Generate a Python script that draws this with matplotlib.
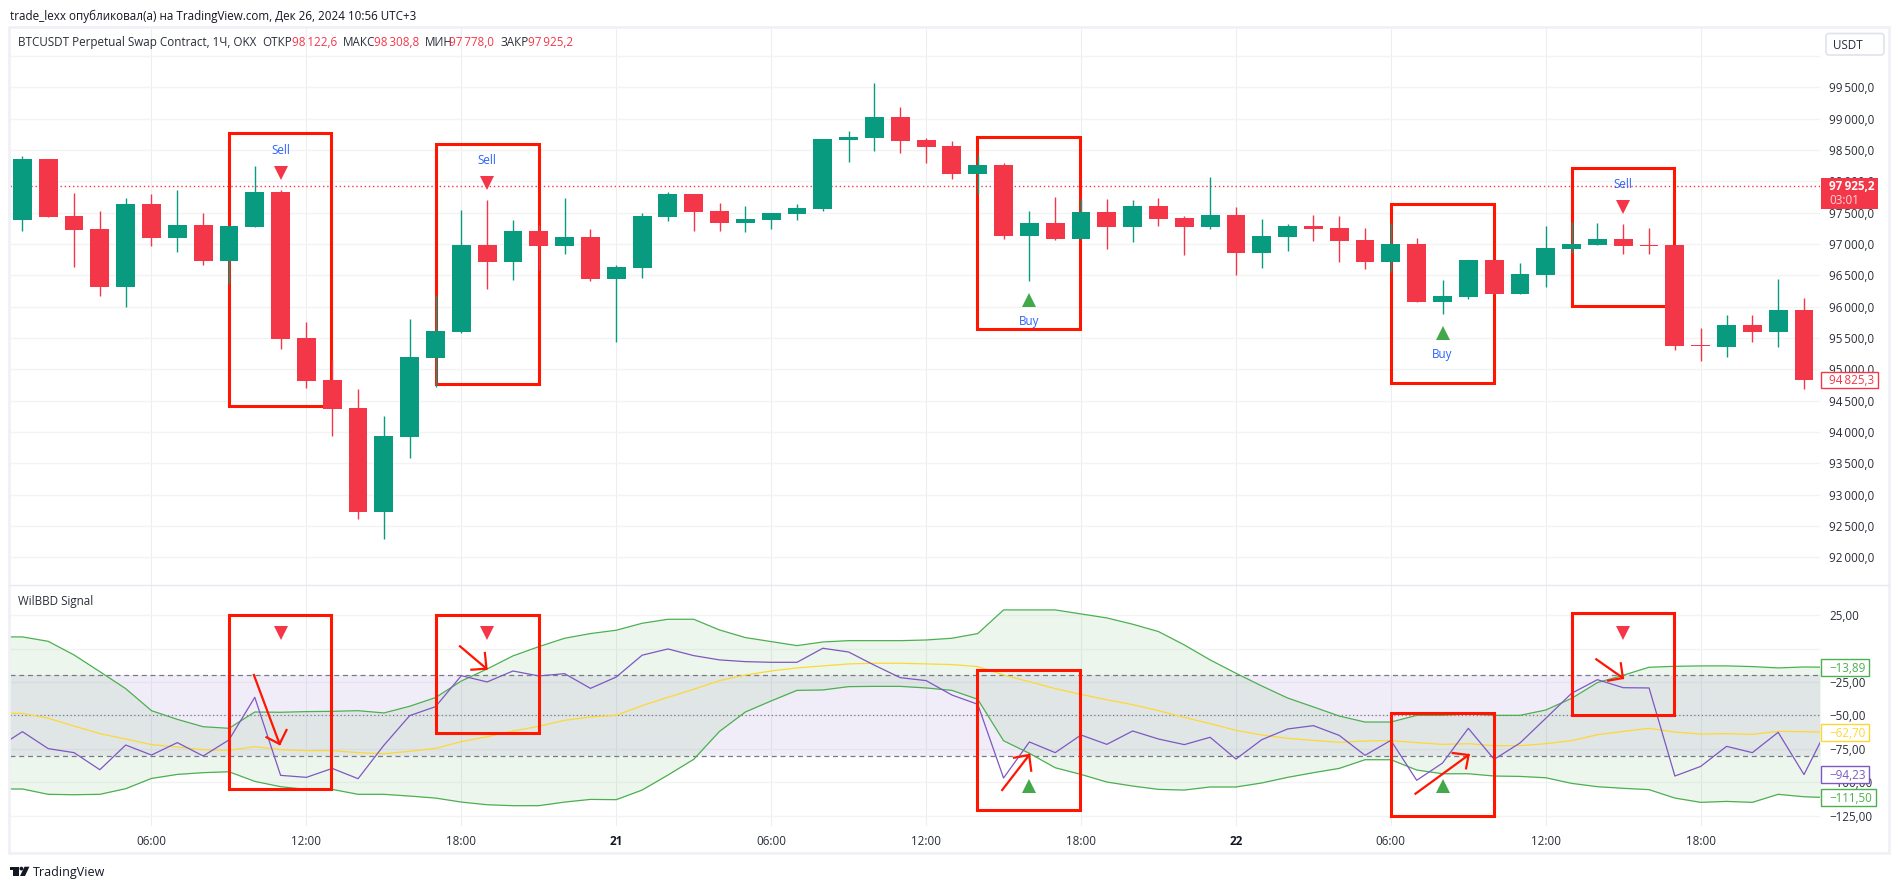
#!/usr/bin/env python
"""BTCUSDT 1h candles with the WilBBD Signal pane, TradingView look."""
import matplotlib
matplotlib.use("Agg")
import matplotlib.pyplot as plt
from matplotlib.patches import Rectangle, FancyBboxPatch, Circle, Polygon
from matplotlib.transforms import Affine2D

# ---- data ----
HOURS = list(range(1, 71))  # hours since the 20th, 00:00
OPENS = [97383, 98356, 97447, 97239, 96319, 97638, 97096, 97303, 96729, 97271,
         97830, 95500, 94830, 94383, 92724, 93920, 95181, 95596, 96984, 96713,
         97207, 96968, 97112, 96441, 96617, 97431, 97798, 97527, 97335, 97383,
         97479, 97559, 98660, 98691, 99027, 98660, 98564, 98117, 98261, 97128,
         97335, 97080, 97511, 97271, 97606, 97415, 97271, 97463, 96856, 97112,
         97287, 97255, 97064, 96713, 97000, 96074, 96154, 96745, 96202, 96505,
         96920, 96984, 97080, 96984, 96984, 95388, 95356, 95707, 95596, 95947]
HIGHS = [98404, 98356, 97814, 97527, 97734, 97798, 97862, 97495, 97287, 98245,
         97862, 95755, 95149, 94686, 94255, 95803, 96186, 97543, 97702, 97383,
         97303, 97734, 97239, 96665, 97495, 97830, 97798, 97654, 97606, 97495,
         97638, 98675, 98803, 99569, 99186, 98691, 98644, 98420, 98293, 97527,
         97750, 97718, 97718, 97702, 97734, 97447, 98069, 97590, 97399, 97319,
         97463, 97447, 97255, 97335, 97096, 96426, 96745, 96745, 96697, 97287,
         97351, 97335, 97319, 97255, 96984, 95660, 95867, 95867, 96441, 96138]
LOWS = [97213, 97431, 96633, 96170, 95995, 96968, 96872, 96665, 96362, 97271,
        95325, 94702, 93936, 92612, 92293, 93585, 94718, 95580, 96282, 96426,
        96585, 96840, 96410, 95436, 96457, 97367, 97207, 97207, 97191, 97239,
        97383, 97527, 98308, 98484, 98452, 98293, 98037, 97798, 97080, 96410,
        97064, 97080, 96920, 97032, 97287, 96824, 97239, 96505, 96617, 96888,
        97048, 96713, 96601, 96553, 96074, 95883, 96122, 96202, 96202, 96314,
        96856, 96984, 96840, 96840, 95309, 95133, 95197, 95436, 95356, 94686]
CLOSES = [98356, 97431, 97223, 96319, 97638, 97096, 97303, 96729, 97287, 97830,
          95484, 94814, 94367, 92724, 93936, 95197, 95612, 96984, 96713, 97207,
          96968, 97112, 96441, 96633, 97447, 97798, 97511, 97335, 97399, 97495,
          97574, 98675, 98707, 99027, 98644, 98548, 98117, 98261, 97128, 97335,
          97080, 97511, 97271, 97606, 97399, 97271, 97463, 96856, 97128, 97287,
          97239, 97048, 96713, 97000, 96074, 96170, 96745, 96202, 96521, 96936,
          97000, 97080, 96968, 96968, 95372, 95372, 95707, 95596, 95947, 94825.3]
LAST_PRICE = 97925.2

SELL_HOURS = [11, 19, 63]
SELL_PRICES = [98141, 97978, 97595]
BUY_HOURS = [40, 56]
BUY_PRICES = [96111, 95588]
SELL_OSC = [12, 12, 12]
BUY_OSC = [-102.4, -102.4]

OSC_HOURS = list(range(0, 72))
UPPER = [8.8, 8.8, 5.5, -4.7, -17.2, -29.9, -46.4, -52.9, -58.4, -59.6, -47.4, -47.6,
         -47.1, -46.9, -46.4, -48.1, -43.1, -36.6, -24.2, -15.2, -5.4, 1.5, 7.8, 11.3,
         13.8, 19.0, 22.0, 22.0, 14.0, 8.3, 5.3, 2.3, 5.0, 6.0, 6.0, 6.0,
         6.5, 7.8, 11.3, 29.0, 29.0, 29.0, 26.0, 23.0, 18.3, 12.8, 2.8, -8.4,
         -18.4, -27.9, -36.9, -43.6, -50.4, -54.9, -54.9, -49.9, -49.9, -48.9, -49.9, -49.9,
         -45.9, -37.2, -25.4, -19.9, -13.9, -13.2, -12.9, -12.9, -13.4, -14.4, -13.7, -13.9]
LOWER = [-105.0, -105.0, -109.0, -109.3, -109.0, -104.8, -97.1, -94.1, -92.8, -92.1, -99.3, -103.3,
         -105.3, -105.3, -109.0, -109.0, -110.3, -111.8, -114.8, -116.8, -117.5, -117.5, -114.8, -112.8,
         -113.0, -105.8, -94.6, -82.8, -61.9, -47.4, -39.1, -31.2, -30.9, -28.4, -28.2, -28.2,
         -29.4, -31.2, -37.9, -68.9, -78.3, -89.1, -94.1, -99.8, -102.8, -105.3, -105.8, -103.5,
         -103.5, -100.5, -96.3, -92.8, -89.6, -83.1, -83.1, -90.8, -93.6, -93.6, -95.3, -95.6,
         -96.6, -100.8, -103.3, -104.5, -105.5, -111.8, -115.0, -114.3, -115.0, -109.0, -110.8, -111.5]
SIGNAL = [-74.6, -62.1, -74.8, -77.8, -90.6, -72.1, -79.6, -70.3, -80.3, -68.3, -36.4, -94.8,
          -96.3, -89.6, -97.3, -72.3, -50.1, -43.4, -20.2, -24.9, -16.7, -20.4, -18.7, -29.7,
          -21.2, -4.9, -0.2, -5.2, -8.4, -9.7, -10.2, -10.2, 0.3, -2.5, -12.4, -21.7,
          -23.9, -34.7, -41.6, -96.8, -69.8, -77.8, -64.6, -71.6, -61.6, -67.6, -71.8, -66.3,
          -82.6, -68.1, -60.1, -57.6, -64.9, -79.8, -68.6, -98.5, -85.6, -59.6, -82.8, -70.6,
          -52.1, -33.4, -23.2, -29.2, -29.4, -95.3, -88.1, -73.1, -77.8, -62.6, -94.2, -55.9]
BASIS = [-48.4, -48.4, -52.1, -57.9, -63.6, -67.6, -71.8, -73.6, -75.6, -76.1, -73.3, -75.6,
         -76.3, -76.3, -77.8, -78.6, -76.8, -74.6, -69.6, -65.9, -61.6, -58.1, -53.6, -51.1,
         -49.9, -42.6, -36.4, -30.4, -23.9, -19.7, -16.7, -14.4, -12.9, -11.4, -10.9, -10.9,
         -11.4, -11.9, -13.4, -19.7, -24.7, -29.9, -34.2, -38.2, -41.9, -46.4, -51.4, -56.1,
         -61.1, -64.6, -67.1, -68.6, -70.1, -69.1, -68.8, -70.3, -71.6, -71.1, -72.6, -72.6,
         -71.1, -68.8, -64.4, -61.9, -59.6, -62.4, -63.9, -63.6, -64.1, -61.9, -62.1, -62.7]

TIME_TICKS = [6, 12, 18, 24, 30, 36, 42, 48, 54, 60, 66]
TIME_LABELS = ["06:00", "12:00", "18:00", "21", "06:00", "12:00", "18:00", "22",
               "06:00", "12:00", "18:00"]
PRICE_TICKS = list(range(92000, 100001, 500))
OSC_TICKS = [25, 0, -25, -50, -75, -100, -125]
OSC_LABELS = ["25,00", "", "\u221225,00", "\u221250,00", "\u221275,00", "\u2212100,00", "\u2212125,00"]

# ---- palette ----
UP = "#089b80"
DOWN = "#f43748"
GRID_H = "#f3f3f4"
GRID_V = "#eeeef1"
FRAME = "#f0f0f7"
TEXT = "#2a2e39"
MARK = "#ff1500"
BLUE = "#2962ff"
GREEN = "#4caf50"
PURPLE = "#7e57c2"
YELLOW = "#fdd835"
BUY_GREEN = "#43a84a"

W, H = 1899, 889
plt.rcParams["font.family"] = "Open Sans"
FS = 8.4


def px_axes(fig, left, top, right, bottom):
    return fig.add_axes([left / W, 1 - bottom / H, (right - left) / W, (bottom - top) / H])


def price_label(p):
    s = f"{p:,.1f}"
    return s.replace(",", "\u2009").replace(".", ",")


fig = plt.figure(figsize=(W / 100, H / 100), dpi=100, facecolor="white")
ax1 = px_axes(fig, 10, 27, 1820, 585)
ax2 = px_axes(fig, 10, 586, 1820, 826)
PX = Affine2D().scale(1, -1).translate(0, H)  # reference pixels -> display
XLIM = (0.52, 70.62)
YLIM1 = (91559, 100463)
YLIM2 = (-132.7, 46.9)

for ax in (ax1, ax2):
    ax.set_xlim(*XLIM)
    for s in ax.spines.values():
        s.set_visible(False)
    ax.yaxis.tick_right()
    ax.set_axisbelow(True)
    ax.grid(axis="x", color=GRID_V, lw=0.8)
    ax.grid(axis="y", color=GRID_H, lw=1.0)
    ax.tick_params(length=0, labelsize=FS, labelcolor=TEXT, pad=6.5)
    ax.set_xticks(TIME_TICKS)

# price pane
ax1.set_ylim(*YLIM1)
# the 100 000 line has its label hidden behind the USDT button
ax1.set_yticks(PRICE_TICKS, [price_label(p) if p < 100000 else "" for p in PRICE_TICKS])
ax1.tick_params(axis="x", labelbottom=False)

colors = [UP if c >= o else DOWN for o, c in zip(OPENS, CLOSES)]
ax1.vlines(HOURS, LOWS, HIGHS, colors=colors, lw=1.0, zorder=4)
ax1.bar(HOURS, [abs(c - o) for o, c in zip(OPENS, CLOSES)], 0.73,
        bottom=[min(o, c) for o, c in zip(OPENS, CLOSES)], color=colors, zorder=4)
ax1.axhline(LAST_PRICE, color=DOWN, ls=(0, (1, 2)), lw=1.0, zorder=3)

ax1.plot(SELL_HOURS, SELL_PRICES, ls="", marker="v", ms=10, color=DOWN, mew=0, zorder=5)
ax1.plot(BUY_HOURS, BUY_PRICES, ls="", marker="^", ms=10, color=BUY_GREEN, mew=0, zorder=5)
for t, p in zip(SELL_HOURS, SELL_PRICES):
    ax1.annotate("Sell", (t, p), xytext=(0, 16), textcoords="offset points", ha="center",
                 va="center", color=BLUE, fontsize=FS, zorder=5)
for t, p in zip(BUY_HOURS, BUY_PRICES):
    ax1.annotate("Buy", (t, p), xytext=(0, -15.6), textcoords="offset points", ha="center",
                 va="center", color=BLUE, fontsize=FS, zorder=5)

# oscillator pane
ax2.set_ylim(*YLIM2)
ax2.set_yticks(OSC_TICKS, OSC_LABELS)
ax2.set_xticks(TIME_TICKS, TIME_LABELS)
ax2.tick_params(axis="x", pad=6.8)
for lab, txt in zip(ax2.get_xticklabels(), TIME_LABELS):
    if ":" not in txt:
        lab.set_fontweight("bold")
        lab.set_color("#131722")
for ax in (ax1, ax2):
    for lab in ax.get_yticklabels():
        lab.set_va("center_baseline")

ax2.axhspan(-80, -20, color=PURPLE, alpha=0.1, lw=0, zorder=1)
ax2.fill_between(OSC_HOURS, LOWER, UPPER, color=GREEN, alpha=0.1, lw=0, zorder=1.1)
ax2.axhline(-20, color="#787b86", ls=(0, (4, 3)), lw=0.9, zorder=1.5)
ax2.axhline(-80, color="#787b86", ls=(0, (4, 3)), lw=0.9, zorder=1.5)
ax2.axhline(-50, color="#787b86", ls=(0, (1, 2)), lw=0.9, zorder=1.5)
ax2.plot(OSC_HOURS, UPPER, color=GREEN, lw=0.9, zorder=2)
ax2.plot(OSC_HOURS, LOWER, color=GREEN, lw=0.9, zorder=2)
ax2.plot(OSC_HOURS, BASIS, color=YELLOW, lw=0.9, zorder=2)
ax2.plot(OSC_HOURS, SIGNAL, color=PURPLE, lw=0.9, zorder=2)
ax2.plot(SELL_HOURS, SELL_OSC, ls="", marker="v", ms=10, color=DOWN, mew=0, zorder=5)
ax2.plot(BUY_HOURS, BUY_OSC, ls="", marker="^", ms=10, color=BUY_GREEN, mew=0, zorder=5)

# hand-drawn red boxes (left, top, right, bottom in picture pixels)
BOXES_TOP = [(228.6, 133.3, 331.4, 406), (435.5, 144.3, 538.8, 384.3), (977.3, 137.3, 1080.2, 329),
             (1390.6, 204, 1493.9, 382.7), (1571.7, 168.3, 1674.3, 306)]
BOXES_BOTTOM = [(228.6, 615.3, 331.4, 789.3), (435.5, 615.3, 538.8, 733.3), (977.3, 670, 1080.2, 810.3),
                (1390.6, 713.3, 1493.9, 815.7), (1571.7, 613.3, 1674.3, 714.7)]
for ax, boxes in ((ax1, BOXES_TOP), (ax2, BOXES_BOTTOM)):
    for l, t, r, b in boxes:
        ax.add_patch(Rectangle((l, t), r - l, b - t, fill=False, ec=MARK, lw=2.2,
                               transform=PX, zorder=3, clip_on=False))

# hand-drawn arrows: tail, tip, two barbs
ARROWS = [((253.9, 675), (279.6, 744), (266.5, 737.3), (286.5, 730)),
          ((460, 646.3), (486.5, 668.7), (471.4, 669.7), (484.9, 653)),
          ((1002.2, 790), (1029.2, 755), (1014.1, 757.7), (1031.2, 770.7)),
          ((1415.5, 793.7), (1468.6, 755), (1452.7, 753), (1466.1, 768.3)),
          ((1596.3, 659.3), (1622.9, 678), (1608.2, 680.7), (1620.8, 663.3))]
for tail, tip, b1, b2 in ARROWS:
    ax2.plot([tail[0], tip[0]], [tail[1], tip[1]], color=MARK, lw=1.6, transform=PX, zorder=6, clip_on=False)
    ax2.plot([b1[0], tip[0], b2[0]], [b1[1], tip[1], b2[1]], color=MARK, lw=1.6, transform=PX,
             zorder=6, clip_on=False)
ax2.set_xlim(*XLIM)
ax2.set_ylim(*YLIM2)

# overlay in picture pixels: frame, header, tags, logo
ov = fig.add_axes([0, 0, 1, 1], zorder=10)
ov.set_xlim(0, W)
ov.set_ylim(H, 0)
ov.axis("off")
ov.patch.set_alpha(0)
ov.add_patch(Rectangle((9.5, 27), 1880, 826, fill=False, ec=FRAME, lw=2))
ov.plot([10, 1889], [585.3, 585.3], color="#e8e8f0", lw=1)


def label(x, y, s, **kw):
    kw.setdefault("fontsize", FS)
    kw.setdefault("color", TEXT)
    ov.text(x, y + 1, s, va="center", **kw)


label(10, 15, "trade_lexx опубликовал(а) на TradingView.com, Дек 26, 2024 10:56 UTC+3", color="#131722")
label(18, 41.5, "BTCUSDT Perpetual Swap Contract, 1Ч, OKX")
for x, s in ((262, "ОТКР"), (342.9, "МАКС"), (424.5, "МИН"), (500.4, "ЗАКР")):
    label(x, 41.5, s)
for x, s in ((292.2, 98122.6), (373.9, 98308.8), (449, 97778.0), (528.2, LAST_PRICE)):
    label(x, 41.5, price_label(s), color=DOWN)
label(18, 600.7, "WilBBD Signal")

# USDT button
ov.add_patch(FancyBboxPatch((1826, 33.5), 58, 21.5, boxstyle="round,pad=0,rounding_size=3",
                            fc="white", ec="#e0e3eb", lw=1.2))
label(1833, 44.3, "USDT")

# last price tag
ov.add_patch(Rectangle((1820.8, 178), 57.2, 31, fc=DOWN, ec="none"))
label(1829, 185.7, price_label(LAST_PRICE), color="white", fontweight="bold")
label(1829, 200, "03:01", color="#fcd7da")
ov.add_patch(Rectangle((1820.8, 372), 57.2, 16, fc="white", ec=DOWN, lw=1))
label(1829, 380, price_label(CLOSES[-1]), color=DOWN)

# oscillator value tags
TAGS = [("\u221213,89", 659.3, 1869.4, GREEN), ("\u221262,70", 724.3, 1869.4, YELLOW),
        ("\u221294,23", 766.3, 1869.4, PURPLE), ("\u2212111,50", 789.3, 1876.3, GREEN)]
for s, top, right, c in TAGS:
    ov.add_patch(Rectangle((1820.8, top), right - 1820.8, 16.2, fc="white", ec=c, lw=1))
    label(1829, top + 8.1, s, color=c)

# footer logo
ov.add_patch(Polygon([(9.8, 866.7), (19, 866.7), (19, 876), (13.5, 876), (13.5, 870.4), (9.8, 870.4)],
                     fc="#131722", ec="none"))
ov.add_patch(Circle((21.4, 868.6), 1.9, fc="#131722", ec="none"))
ov.add_patch(Polygon([(24.5, 866.7), (29.4, 866.7), (25, 876), (20, 876)], fc="#131722", ec="none"))
label(33, 871.7, "TradingView", fontsize=FS + 0.6, color="#131722")

fig.savefig("out.png", dpi=100, facecolor="white")
